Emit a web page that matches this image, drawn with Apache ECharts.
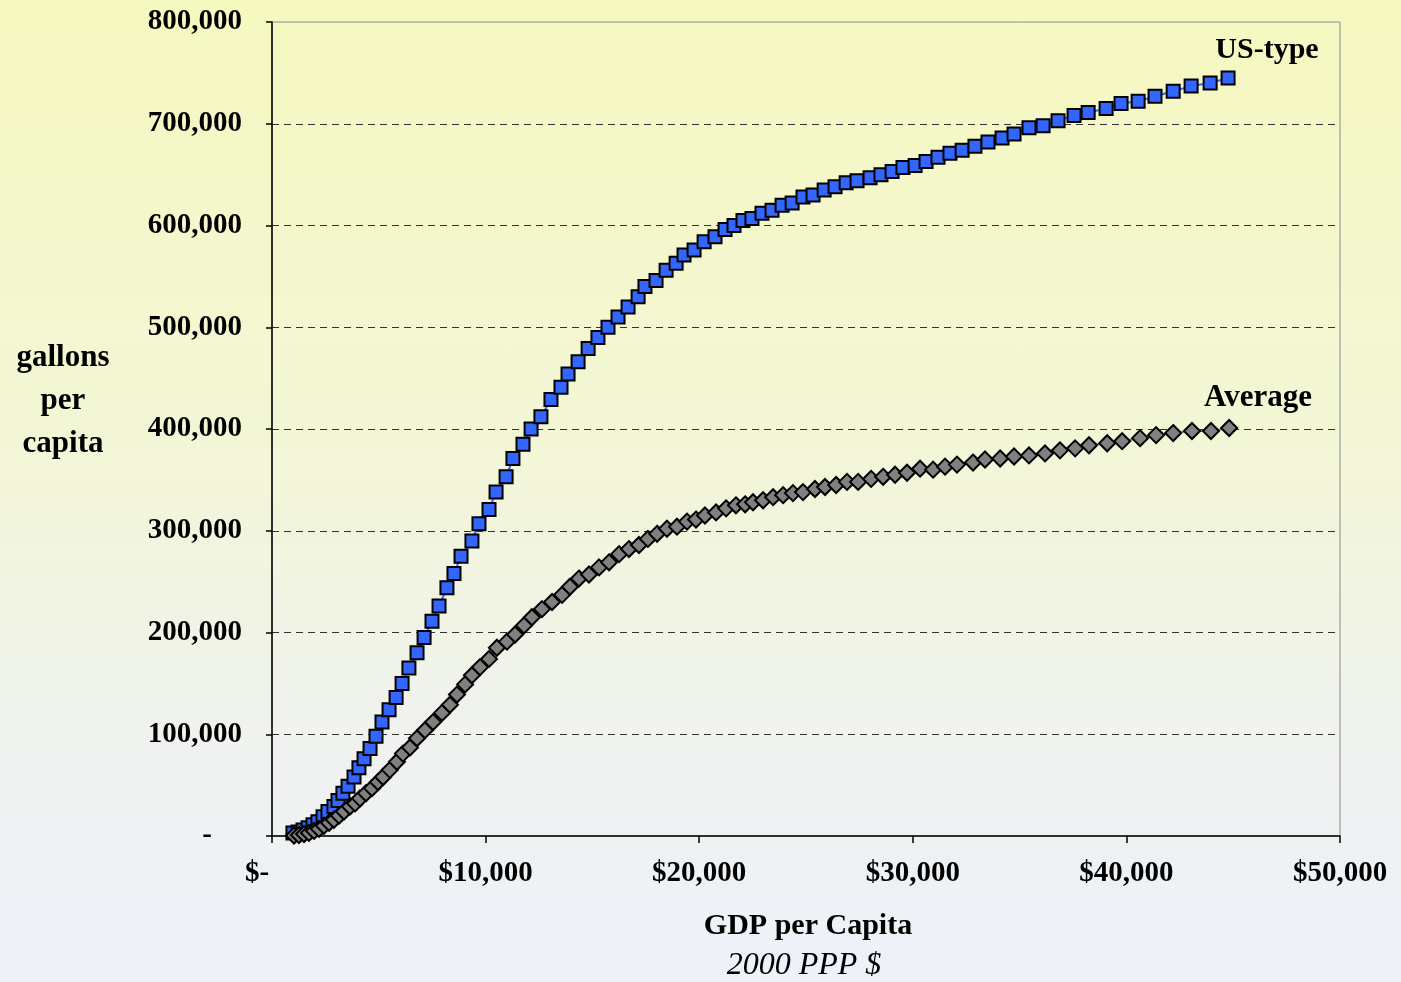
<!DOCTYPE html>
<html>
<head>
<meta charset="utf-8">
<script src="https://cdn.jsdelivr.net/npm/echarts@6/dist/echarts.min.js"></script>
<style>
  html, body { margin: 0; padding: 0; }
  body {
    width: 1401px;
    height: 982px;
    background: linear-gradient(to bottom, #f5f8bf 0%, #f3f6d6 45%, #eff2ee 75%, #eef1f9 100%);
  }
  #chart { width: 1401px; height: 982px; }
</style>
</head>
<body>
<div id="chart"></div>
<script>
// GDP per capita (2000 PPP $) and gallons per capita
const usGdp = [
  980, 1220, 1450, 1690, 1920, 2150, 2390, 2620, 2900, 3090,
  3320, 3560, 3840, 4070, 4310, 4590, 4870, 5150, 5480, 5810,
  6090, 6410, 6790, 7120, 7490, 7820, 8190, 8520, 8850, 9360,
  9690, 10160, 10490, 10960, 11280, 11750, 12130, 12590, 13060, 13530,
  13860, 14330, 14800, 15260, 15730, 16200, 16670, 17140, 17460, 17980,
  18450, 18920, 19290, 19760, 20230, 20740, 21210, 21630, 22050, 22470,
  22940, 23410, 23880, 24350, 24860, 25330, 25850, 26360, 26880, 27390,
  28000, 28510, 29030, 29540, 30110, 30620, 31180, 31740, 32310, 32910,
  33520, 34180, 34740, 35440, 36100, 36800, 37550, 38210, 39050, 39750,
  40550, 41340, 42190, 43030, 43920, 44760
]
const usGallons = [
  3000, 4000, 6000, 8000, 11000, 14000, 19000, 24000, 29000, 35000,
  42000, 49000, 58000, 67000, 76000, 86000, 98000, 112000, 124000, 136000,
  150000, 165000, 180000, 195000, 211000, 226000, 244000, 258000, 275000, 290000,
  307000, 321000, 338000, 353000, 371000, 385000, 400000, 412000, 429000, 441000,
  454000, 466000, 479000, 490000, 500000, 510000, 520000, 530000, 540000, 546000,
  556000, 563000, 571000, 576000, 584000, 589000, 596000, 600000, 605000, 607000,
  612000, 615000, 620000, 622000, 628000, 630000, 635000, 638000, 642000, 644000,
  647000, 650000, 653000, 657000, 659000, 663000, 667000, 671000, 674000, 678000,
  682000, 686000, 690000, 696000, 698000, 703000, 708000, 711000, 715000, 720000,
  722000, 727000, 732000, 737000, 740000, 745000
]
const avgGdp = [
  1030, 1260, 1500, 1730, 1970, 2200, 2430, 2670, 2900, 3140,
  3370, 3650, 3890, 4120, 4400, 4680, 4960, 5200, 5520, 5850,
  6130, 6460, 6790, 7160, 7540, 7960, 8330, 8660, 9040, 9360,
  9740, 10160, 10530, 11000, 11380, 11800, 12170, 12640, 13110, 13580,
  13950, 14370, 14840, 15310, 15780, 16250, 16710, 17180, 17600, 18030,
  18490, 18960, 19430, 19850, 20270, 20790, 21260, 21720, 22150, 22520,
  22990, 23460, 23930, 24390, 24860, 25420, 25890, 26410, 26920, 27440,
  28050, 28610, 29170, 29730, 30340, 30950, 31510, 32070, 32820, 33380,
  34090, 34740, 35440, 36190, 36890, 37600, 38250, 39100, 39800, 40640,
  41390, 42190, 43070, 43960, 44810
]
const avgGallons = [
  500, 1000, 2000, 3000, 5000, 7000, 10000, 13000, 16000, 20000,
  24000, 29000, 32000, 37000, 42000, 47000, 53000, 58000, 65000, 73000,
  81000, 87000, 96000, 104000, 112000, 121000, 129000, 139000, 149000, 158000,
  166000, 174000, 185000, 191000, 198000, 207000, 215000, 223000, 230000, 237000,
  245000, 253000, 257000, 264000, 269000, 277000, 282000, 286000, 292000, 297000,
  302000, 304000, 309000, 311000, 315000, 318000, 322000, 325000, 326000, 328000,
  330000, 333000, 335000, 337000, 338000, 341000, 343000, 345000, 348000, 348000,
  351000, 353000, 355000, 357000, 361000, 360000, 363000, 365000, 367000, 370000,
  371000, 373000, 374000, 376000, 379000, 381000, 384000, 386000, 388000, 391000,
  394000, 396000, 398000, 398000, 401000
]
const yTitleLines = ['gallons', 'per', 'capita']

const serif = '"Liberation Serif", "Times New Roman", serif'

const chart = echarts.init(document.getElementById('chart'))

const zip = (xs, ys) => xs.map((x, i) => [x, ys[i]])

chart.setOption({
  backgroundColor: 'transparent',
  animation: false,
  grid: { left: 272, right: 61, top: 22, bottom: 146, show: true, borderColor: '#8c8c8c', borderWidth: 1 },
  xAxis: {
    type: 'value',
    min: 0,
    max: 50000,
    interval: 10000,
    axisLine: { show: true, lineStyle: { color: '#000', width: 1.5 } },
    axisTick: { show: true, length: 7, lineStyle: { color: '#000', width: 1.5 } },
    splitLine: { show: false },
    axisLabel: {
      margin: 23,
      color: '#000',
      fontFamily: serif,
      fontWeight: 'bold',
      fontSize: 29,
      formatter: v => v === 0 ? '{z|$-}' : '$' + v.toLocaleString('en-US'),
      rich: {
        z: { fontFamily: serif, fontWeight: 'bold', fontSize: 29, color: '#000', padding: [0, 30, 0, 0] }
      }
    }
  },
  yAxis: {
    type: 'value',
    min: 0,
    max: 800000,
    interval: 100000,
    axisLine: { show: true, lineStyle: { color: '#000', width: 1.5 } },
    axisTick: { show: true, length: 6, lineStyle: { color: '#000', width: 1.5 } },
    splitLine: {
      show: true,
      showMinLine: false,
      showMaxLine: false,
      lineStyle: { color: '#333', type: [7, 5], width: 1 }
    },
    axisLabel: {
      margin: 30,
      color: '#000',
      fontFamily: serif,
      fontWeight: 'bold',
      fontSize: 29,
      formatter: v => v === 0 ? '{z|-}' : v.toLocaleString('en-US'),
      rich: {
        z: { fontFamily: serif, fontWeight: 'bold', fontSize: 29, color: '#000', padding: [0, 30, 0, 0] }
      }
    }
  },
  series: [
    {
      name: 'US-type',
      type: 'line',
      data: zip(usGdp, usGallons),
      showAllSymbol: true,
      symbol: 'rect',
      symbolSize: 13,
      lineStyle: { color: '#3366ff', width: 2 },
      itemStyle: { color: '#3366ff', borderColor: '#000', borderWidth: 2 }
    },
    {
      name: 'Average',
      type: 'line',
      data: zip(avgGdp, avgGallons),
      showAllSymbol: true,
      symbol: 'diamond',
      symbolSize: 16,
      lineStyle: { color: '#808080', width: 2 },
      itemStyle: { color: '#808080', borderColor: '#000', borderWidth: 2 }
    }
  ],
  graphic: [
    {
      type: 'text', x: 1267, y: 50,
      style: { text: 'US-type', font: 'bold 30px ' + serif, fill: '#000', align: 'center', verticalAlign: 'middle' }
    },
    {
      type: 'text', x: 1258, y: 398,
      style: { text: 'Average', font: 'bold 31px ' + serif, fill: '#000', align: 'center', verticalAlign: 'middle' }
    },
    ...yTitleLines.map((t, i) => ({
      type: 'text', x: 63, y: 358 + i * 43,
      style: { text: t, font: 'bold 31px ' + serif, fill: '#000', align: 'center', verticalAlign: 'middle' }
    })),
    {
      type: 'text', x: 808, y: 926,
      style: { text: 'GDP per Capita', font: 'bold 30px ' + serif, fill: '#000', align: 'center', verticalAlign: 'middle' }
    },
    {
      type: 'text', x: 804, y: 966,
      style: { text: '2000 PPP $', font: 'italic 32px ' + serif, fill: '#000', align: 'center', verticalAlign: 'middle' }
    }
  ]
})
</script>
</body>
</html>
